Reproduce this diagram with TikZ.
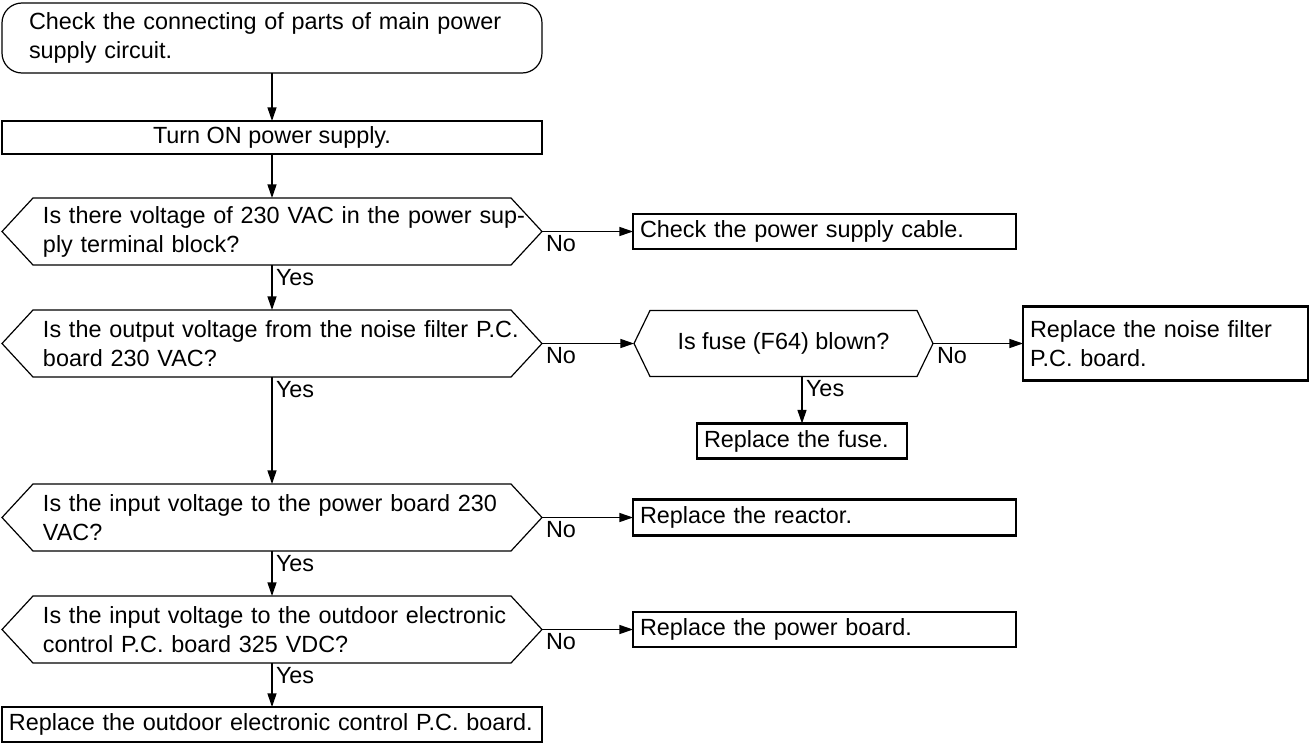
\documentclass[tikz,border=0pt]{standalone}
\usepackage{fontspec}
\setmainfont{Liberation Sans}
\usetikzlibrary{arrows.meta,positioning}

\begin{document}
\begin{tikzpicture}[
  base/.style={rectangle, outer sep=0pt, inner ysep=1pt, font=\fontsize{11.7pt}{14.5pt}\selectfont},
  hexa/.style={append after command={\pgfextra{\draw[line width=0.6pt] (\tikzlastnode.west) -- ([xshift=#1]\tikzlastnode.north west) -- ([xshift=-#1]\tikzlastnode.north east) -- (\tikzlastnode.east) -- ([xshift=-#1]\tikzlastnode.south east) -- ([xshift=#1]\tikzlastnode.south west) -- cycle;}}},
  startbox/.style={base, draw, line width=0.6pt, rounded corners=10pt, text width=270pt, inner xsep=0pt, minimum height=35pt, align=left, execute at begin node={\leftskip=13.5pt\rightskip=0pt plus 1fil\relax}},
  plainbox/.style={base, draw, line width=0.6pt, minimum width=270pt, minimum height=16.5pt},
  quest/.style={base, text width=270pt, inner xsep=0pt, minimum height=33.5pt, align=left, execute at begin node={\leftskip=20.5pt\rightskip=0pt plus 1fil\relax}, hexa=15.5pt},
  fusequest/.style={base, minimum width=149.5pt, minimum height=33pt, align=center, hexa=8pt},
  result/.style={base, draw, line width=1.3pt, text width=#1, inner xsep=3.5pt, minimum height=17.5pt, align=left, execute at begin node={\rightskip=0pt plus 1fil\relax}},
  lbl/.style={base, pos=0, anchor=north west, inner sep=2pt},
  line/.style={draw, line width=0.6pt, -{Triangle[length=6.8pt, width=4.5pt]}}]

  \useasboundingbox (0,0) rectangle (655pt,-372pt);

  % main column
  \node [startbox] (start) at (136pt,-19pt) {Check the connecting of parts of main power\\supply circuit.};
  \node [plainbox, below=24pt of start] (power) {Turn ON power supply.};
  \node [quest, below=22pt of power] (volt) {Is there voltage of 230 VAC in the power sup-\\ply terminal block?};
  \node [quest, below=22.5pt of volt] (filter) {Is the output voltage from the noise filter P.C.\\board 230 VAC?};
  \node [quest, below=53.5pt of filter] (input) {Is the input voltage to the power board 230\\VAC?};
  \node [quest, below=22.5pt of input] (outdoor) {Is the input voltage to the outdoor electronic\\control P.C. board 325 VDC?};
  \node [result=263pt, below=22pt of outdoor] (pcb) {Replace the outdoor electronic control P.C. board.};

  % right side
  \node [result=184.5pt, right=45.5pt of volt] (cable) {Check the power supply cable.};
  \node [fusequest, right=46pt of filter] (fuse) {Is fuse (F64) blown?};
  \node [result=135.5pt, minimum height=37pt, right=45pt of fuse] (noise) {Replace the noise filter\\P.C. board.};
  \node [result=98pt, below=23.5pt of fuse, xshift=9.25pt] (fuseok) {Replace the fuse.};
  \node [result=184.5pt, minimum height=18pt, right=45.5pt of input] (reactor) {Replace the reactor.};
  \node [result=184.5pt, right=45.5pt of outdoor] (board) {Replace the power board.};

  \path [line] (start) -- (power);
  \path [line] (power) -- (volt);
  \path [line] (volt) -- node [lbl] {Yes} (filter);
  \path [line] (filter) -- node [lbl] {Yes} (input);
  \path [line] (input) -- node [lbl] {Yes} (outdoor);
  \path [line] (outdoor) -- node [lbl] {Yes} (pcb);
  \path [line] (volt) -- node [lbl] {No} (cable);
  \path [line] (filter) -- node [lbl] {No} (fuse);
  \path [line] (fuse) -- node [lbl] {No} (noise);
  \path [line] (fuse.south -| fuseok.north) -- node [lbl] {Yes} (fuseok);
  \path [line] (input) -- node [lbl] {No} (reactor);
  \path [line] (outdoor) -- node [lbl] {No} (board);
\end{tikzpicture}
\end{document}
